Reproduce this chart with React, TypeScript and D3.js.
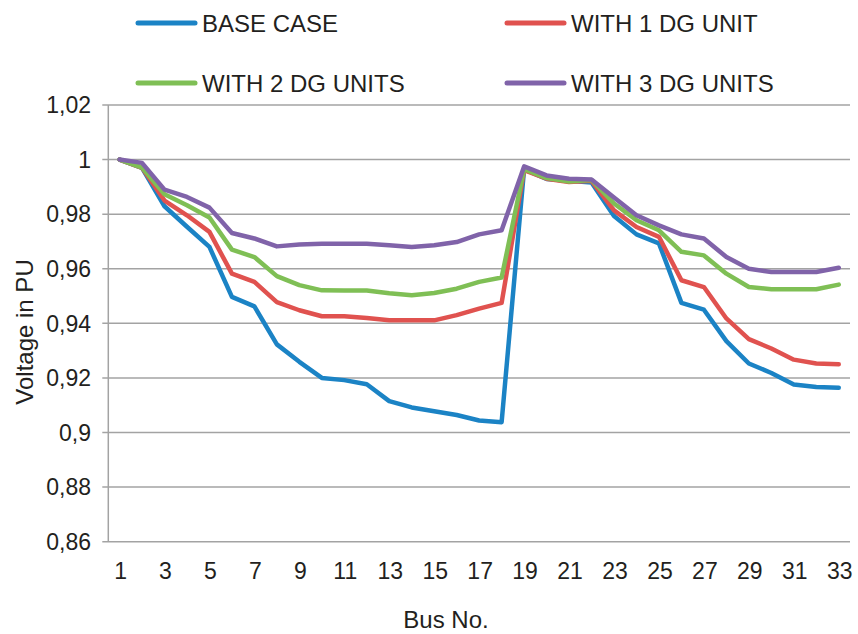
import React, { useEffect, useRef } from 'react';
import * as d3 from 'd3';

const buses = d3.range(1, 34);

const baseCase = [
    1.0, 0.997, 0.9829, 0.9754, 0.968, 0.9497, 0.9462, 0.9323, 0.9259, 0.92, 0.9192,
    0.9177, 0.9115, 0.9092, 0.9078, 0.9064, 0.9044, 0.9038, 0.9965, 0.9929, 0.9922,
    0.9916, 0.9793, 0.9726, 0.9693, 0.9475, 0.945, 0.9335, 0.9253, 0.9218, 0.9176,
    0.9167, 0.9164,
];
const oneDg = [
    1.0, 0.997, 0.985, 0.9796, 0.9735, 0.9582, 0.9552, 0.9478, 0.9448, 0.9426, 0.9426,
    0.942, 0.9411, 0.9411, 0.9411, 0.943, 0.9454, 0.9475, 0.9961, 0.993, 0.9918,
    0.9922, 0.9814, 0.9753, 0.9717, 0.9558, 0.9533, 0.9418, 0.9342, 0.9308, 0.9267,
    0.9253, 0.925,
];
const twoDg = [
    1.0, 0.9971, 0.9873, 0.9833, 0.9788, 0.967, 0.9643, 0.9573, 0.954, 0.9521, 0.952,
    0.952, 0.951, 0.9503, 0.9511, 0.9527, 0.9552, 0.9568, 0.9965, 0.9932, 0.992,
    0.9925, 0.9839, 0.9778, 0.9741, 0.9662, 0.9649, 0.9582, 0.9533, 0.9525, 0.9525,
    0.9525, 0.9542,
];
const threeDg = [
    1.0, 0.9988, 0.989, 0.9863, 0.9824, 0.9731, 0.9711, 0.9682, 0.9689, 0.9692, 0.9692,
    0.9692, 0.9686, 0.968, 0.9686, 0.9698, 0.9726, 0.9741, 0.9975, 0.9942, 0.993,
    0.9927, 0.9861, 0.9796, 0.9759, 0.9726, 0.9711, 0.9643, 0.96, 0.9588, 0.9588,
    0.9588, 0.9604,
];

const seriesNames = ['BASE CASE', 'WITH 1 DG UNIT', 'WITH 2 DG UNITS', 'WITH 3 DG UNITS'];
const seriesValues = [baseCase, oneDg, twoDg, threeDg];
const colors = ['#1B83C5', '#E0524F', '#7FBF55', '#8063A9'];

const yTicks = [0.86, 0.88, 0.9, 0.92, 0.94, 0.96, 0.98, 1, 1.02];
const xTickLabels = buses.filter(b => b % 2 === 1);

const App = () => {
    const svgRef = useRef<SVGSVGElement>(null);

    useEffect(() => {
        const width = 858;
        const height = 634;
        const left = 108.3;
        const right = 850;
        const top = 105;
        const bottom = 541.7;
        const font = '"Liberation Sans", Arial, sans-serif';
        const textColor = '#231F20';
        const gridColor = '#A3A3A3';

        const svg = d3.select(svgRef.current)
            .attr('width', width)
            .attr('height', height);
        svg.selectAll('*').remove();

        svg.append('rect')
            .attr('width', width)
            .attr('height', height)
            .attr('fill', '#fff');

        const xScale = d3.scalePoint<number>()
            .domain(buses)
            .range([left, right])
            .padding(0.5);

        const yScale = d3.scaleLinear()
            .domain([0.86, 1.02])
            .range([bottom, top]);

        // gridlines + y tick marks
        svg.append('g')
            .selectAll('line')
            .data(yTicks)
            .enter()
            .append('line')
            .attr('x1', left - 6)
            .attr('x2', right)
            .attr('y1', d => yScale(d))
            .attr('y2', d => yScale(d))
            .attr('stroke', gridColor)
            .attr('stroke-width', 1.5);

        // y axis line
        svg.append('line')
            .attr('x1', left)
            .attr('x2', left)
            .attr('y1', top)
            .attr('y2', bottom)
            .attr('stroke', gridColor)
            .attr('stroke-width', 1.5);

        // y tick labels
        svg.append('g')
            .selectAll('text')
            .data(yTicks)
            .enter()
            .append('text')
            .attr('x', 91)
            .attr('y', d => yScale(d))
            .attr('dy', '0.36em')
            .attr('text-anchor', 'end')
            .attr('font-family', font)
            .attr('font-size', 23)
            .attr('fill', textColor)
            .text(d => String(+d.toFixed(2)).replace('.', ','));

        // x tick labels
        svg.append('g')
            .selectAll('text')
            .data(xTickLabels)
            .enter()
            .append('text')
            .attr('x', d => (xScale(d) as number) + 1)
            .attr('y', 579)
            .attr('text-anchor', 'middle')
            .attr('font-family', font)
            .attr('font-size', 23)
            .attr('fill', textColor)
            .text(d => d);

        // lines
        const line = d3.line<number>()
            .x((d, i) => xScale(buses[i]) as number)
            .y(d => yScale(d));

        seriesValues.forEach((vals, i) => {
            svg.append('path')
                .datum(vals)
                .attr('d', line)
                .attr('fill', 'none')
                .attr('stroke', colors[i])
                .attr('stroke-width', 4.5)
                .attr('stroke-linejoin', 'round')
                .attr('stroke-linecap', 'round');
        });

        // legend
        const legendPos = [
            { x: 138, y: 23 },
            { x: 507, y: 23 },
            { x: 138, y: 83 },
            { x: 507, y: 83 },
        ];
        seriesNames.forEach((name, i) => {
            const p = legendPos[i];
            svg.append('line')
                .attr('x1', p.x)
                .attr('x2', p.x + 57)
                .attr('y1', p.y)
                .attr('y2', p.y)
                .attr('stroke', colors[i])
                .attr('stroke-width', 5)
                .attr('stroke-linecap', 'round');
            svg.append('text')
                .attr('x', p.x + 64)
                .attr('y', p.y + 8.5)
                .attr('font-family', font)
                .attr('font-size', 24)
                .attr('fill', textColor)
                .text(name);
        });

        // axis titles
        svg.append('text')
            .attr('transform', 'rotate(-90)')
            .attr('x', -332)
            .attr('y', 33)
            .attr('text-anchor', 'middle')
            .attr('font-family', font)
            .attr('font-size', 24)
            .attr('fill', textColor)
            .text('Voltage in PU');

        svg.append('text')
            .attr('x', 446)
            .attr('y', 628)
            .attr('text-anchor', 'middle')
            .attr('font-family', font)
            .attr('font-size', 24)
            .attr('fill', textColor)
            .text('Bus No.');
    }, []);

    return (
        <svg ref={svgRef} style={{ position: 'absolute', left: 0, top: 0 }}></svg>
    );
};

export default App;
